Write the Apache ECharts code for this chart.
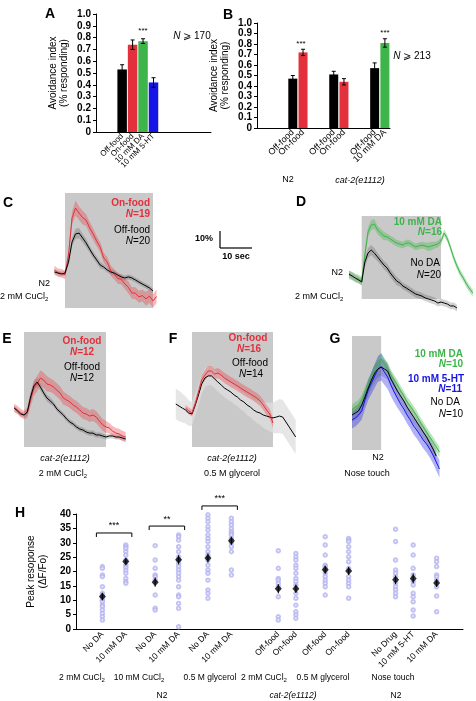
<!DOCTYPE html>
<html><head><meta charset="utf-8">
<script src="https://cdn.jsdelivr.net/npm/echarts@6/dist/echarts.min.js"></script>
<style>html,body{margin:0;padding:0;background:#fff}#c{width:476px;height:701px}</style>
</head><body><div id="c"></div>
<script>
// ================= DATA =================
// Panel A
const aCats = ['Off-food', 'On-food', '10 mM DA', '10 mM 5-HT'];
const aVals = [0.53, 0.74, 0.77, 0.42];
const aErr  = [0.04, 0.04, 0.02, 0.04];
// Panel B
const bCats = ['Off-food', 'On-food', 'Off-food', 'On-food', 'Off-food', '10 mM DA'];
const bVals = [0.47, 0.72, 0.51, 0.44, 0.57, 0.81];
const bErr  = [0.03, 0.03, 0.03, 0.03, 0.05, 0.04];
const barTickStep = 0.1;

// Panel C (time in s, dF/F in %)
const cTime = [-3,-2,-1,0,1,2,3,4,5,6,7,8,9,10,11,12,13,14,15,16,17,18,19,20,21,22,23,24,25,26];
const cOn   = [1.2,-0.4,-0.8,-1.6,10,31.8,37.6,34.6,32,30.5,26,22.3,18.2,14.6,8.3,5.8,0.8,-1.4,-3.9,-4.3,-7,-9,-12.3,-12.5,-14.6,-13.9,-15.8,-14.2,-17,-14.4];
const cOnSem = [2.5,2.5,2.5,2.5,3,4,4.5,4,4,3.5,3.5,3.5,3,3,3,3,3,3,3,3,3,3.5,3.5,3.5,3.5,3.5,4,4,4,4];
const cOff  = [0,-0.6,-1.2,-0.6,5.9,17.6,22.4,22.9,20,17.1,13.5,10,7.1,4.1,2.9,1.2,0,-0.6,-1.8,-2.9,-3.5,-2.9,-3.5,-4.7,-5.9,-7.1,-8.2,-9.4,-11.2,null];
const cOffSem = [1.5,1.5,1.5,1.5,2,2.5,3,3,2.5,2.5,2,2,2,2,1.5,1.5,1.5,1.5,1.5,1.5,1.5,1.5,1.5,1.5,1.5,1.5,1.5,1.5,1.5,1.5];

// Panel D
const dTime = [-4,-3,-2,-1,0,1,2,3,4,5,6,7,8,9,10,11,12,13,14,15,16,17,18,19,20,21,22,23,24,25,26,27,28,29,30,31,32,33,34,35];
const dDA   = [0,-0.6,-1.8,-2.4,-3.5,11.8,25.3,29.4,30,26.5,24.7,22.9,22.4,21.2,20,18.8,18.2,17.6,18.8,18.8,17.6,16.5,17.1,17.6,17.1,16.5,17.1,17.6,18.2,20,24.7,21.2,15.9,10,5.3,1.2,-1.8,-5.3,-8.2,-10.6];
const dDASem = [2.5,2.5,2.5,2.5,2.5,3,3,3,3,2.5,2.5,2.5,2,2,2,2,2,2,2,2,2,2,2,2,2,2.5,2.5,2,2,2,2,2,2,2,2,2,2,2,2,2];
const dNo   = [0.6,-0.6,-1.8,-2.9,-4.1,7.6,12.9,14.7,12.9,10.6,8.2,5.9,4.1,1.2,-1.2,-3.5,-4.7,-6.5,-7.6,-8.8,-10,-11.2,-11.8,-12.4,-13.5,-14.1,-14.7,-15.3,-16.5,-15.9,-16.5,-17.1,-18.2,-18.2,-19.4,null,null,null,null,null];
const dNoSem = [2,2,2,2,2,3,3,3,3,2.5,2.5,2.5,2.5,2.5,2.5,2.5,2,2,2,2,2,2,2,2,2,2,2,2,2,2,2,2,2,2,2,2,2,2,2,2];

// Panel E
const eTime = [-3,-2,-1,0,1,2,3,4,5,6,7,8,9,10,11,12,13,14,15,16,17,18,19,20,21,22,23,24,25,26,27,28,29,30,31];
const eOn   = [2.4,1.2,-0.6,-1.8,-0.6,7.1,14.1,16.5,20,18.8,16.5,15.9,14.7,12.9,11.2,8.2,7.1,5.9,4.1,2.9,1.2,-0.6,-1.2,-2.4,-1.8,-2.9,-5.3,-7.6,-8.8,-9.4,-11.2,-12.4,-12.9,-14.1,-14.7];
const eOnSem = [2.5,2.5,2.5,2.5,3,4,4.5,4.5,4.5,4.5,4.5,4,4,4,4,4,3.5,3.5,3.5,3.5,3.5,3.5,3.5,3.5,3.5,3.5,3.5,3.5,3.5,3,3,3,3,3,3];
const eOff  = [2.4,0.6,-1.2,-1.8,0,8.8,15.3,17.6,14.7,11.2,8.2,6.5,4.7,1.8,0,-1.8,-4.1,-5.9,-7.1,-8.8,-10,-10.6,-11.8,-12.4,-12.4,-13.5,-13.5,-14.1,-14.7,-14.1,-14.1,-14.7,-14.7,-15.3,-15.9];
const eOffSem = [1.5,1.5,1.5,1.5,2,2.5,2.5,2.5,2,2,2,2,1.5,1.5,1.5,1.5,1.5,1.5,1.5,1.5,1.5,1.5,1.5,1.5,1.5,1.5,1.5,1.5,1.5,1.5,1.5,1.5,1.5,1.5,1.5];

// Panel F
const fTime = [-5,-4,-3,-2,-1,0,1,2,3,4,5,6,7,8,9,10,11,12,13,14,15,16,17,18,19,20,21,22,23,24,25,26,27,28,29,30,31,32];
const fOff  = [0.6,-0.6,-1.8,-2.9,-4.7,-5.3,0,5.9,12.4,15.9,17.1,17.1,15.3,13.5,11.8,10,8.8,7.6,5.9,4.7,2.9,1.8,0,-1.2,-2.9,-4.1,-4.7,-5.9,-6.5,-7.1,-7.6,-7.1,-6.5,-7.1,-10,-12.9,-15.9,-18.8];
const fOffSem = [9,9,8.5,8,7.5,7,6.5,6,6,5.5,5.5,5.5,5.5,5.5,5.5,5.5,5.5,5.5,5.5,5.5,5.5,5.5,6,6,6,6.5,7,7.5,8,8.5,9,9.5,10,10,10,10,10,10];
const fOn   = [null,null,null,-1.8,-3.5,-4.7,0.6,7.6,14.7,17.6,20,20,18.2,18.8,17.6,15.9,14.7,13.5,12.4,11.2,10,8.8,7.6,6.5,5.3,4.1,2.4,0,-2.9,-5.3,-10.6,null,null,null,null,null,null,null];
const fOnSem = [0,0,0,2,2,2,2.5,2.5,3,3,3,3,3,3,3,3,3,3,3,3,3,3,3,3,3,3,3,3,3,3,3,0,0,0,0,0,0,0];

// Panel G
const gTime = [0,1,2,3,4,5,6,7,8,9,10,11,12,13,14,15,16,17,18,19,20,21,22,23,24,25,26,27];
const gDA   = [5.9,7.6,8.8,11.8,16.5,20.6,24.7,28.8,32.9,35.9,32.9,30,26.5,23.5,20.6,17.1,14.1,10.6,8.2,5.3,2.4,-1.2,-4.1,-7.1,-10,-12.9,-15.9,-18.8];
const gDASem = [3,3,3,3,3,3.5,3.5,3.5,3.5,3.5,3.5,3.5,3,3,3,3,3,3,3,3,3,3,3,3,3,3,3,3];
const gHT   = [0,1.2,2.9,5.3,11.8,17.6,21.8,25.9,30,31.2,28.2,25.3,20.6,16.5,12.9,9.4,6.5,2.9,0,-3.5,-5.9,-8.8,-11.8,-14.1,-17.1,-20.6,-24.7,-28.8];
const gHTSem = [5,5,5,5,5.5,6,6.5,7,7.5,8,7.5,7,6.5,6,5.5,5,5,5,5,5,5,5,5,5,5,5,5,5];
const gNo   = [2.9,4.1,5.3,8.8,13.5,18.8,23.5,27.6,30,31.2,30,28.8,24.1,20.6,17.1,14.1,11.2,7.6,4.7,1.8,-1.2,-4.1,-7.1,-10,-13.5,-17.1,-21.2,null];
const gNoSem = [4,4,4,4,4,4.5,4.5,5,5,5,5,5,4.5,4.5,4.5,4,4,4,4,4,4,4,4,4,4,4,4,4];

// stimulus durations (s) for C, D, E, F, G
const stimDur = [25, 25, 25, 25, 9];

// Panel H
const hLabels = ['No DA','10 mM DA','No DA','10 mM DA','No DA','10 mM DA','Off-food','On-food','Off-food','On-food','No Drug','10 mM 5-HT','10 mM DA'];
const hPts = [
  [21.7,21.1,18.8,18.2,14.7,12.4,11.2,10.1,9.5,8.3,7.8,6.6,5.4,4.3,3.1],
  [29.2,28.6,28.0,26.9,25.7,24.0,22.2,21.4,20.4,19.4,17.6,16.5,15.9],
  [29.0,24.0,21.1,18.8,18.2,17.0,11.8,7.2,6.6],
  [32.7,32.1,30.9,28.6,26.9,25.1,24.0,22.8,21.7,20.5,19.4,18.2,17.0,14.7,11.8,11.2,8.9,7.2,0.8],
  [39.7,38.5,37.3,35.6,34.4,32.7,31.5,30.4,28.6,26.9,25.7,24.0,22.2,20.5,19.4,17.0,13.6,12.4,10.7],
  [38.5,37.3,36.2,35.0,33.9,33.3,32.7,31.5,29.8,28.6,26.9,20.5,18.8],
  [27.2,21.1,17.6,17.0,15.9,14.7,11.2,4.3,3.1],
  [26.3,25.1,24.0,22.2,21.1,19.4,17.6,16.5,15.3,12.4,10.7,8.3,6.0,4.9,3.7],
  [32.1,29.2,25.7,22.2,21.7,21.1,19.4,18.2,17.0,15.9,14.7,11.8],
  [31.5,30.9,30.4,28.6,26.9,25.1,23.4,21.1,18.2,17.0,15.9,14.7,10.7],
  [34.7,30.4,24.0,20.5,19.4,18.2,15.9,14.7,13.6,12.4,11.2],
  [29.2,25.7,21.1,18.8,16.5,15.3,12.4,11.2,9.5,6.6,4.5],
  [24.6,23.4,21.7,18.8,18.2,17.0,14.7,11.5,6.0]
];
const hMean = [11.3,23.5,16.3,24.1,24.7,30.7,14.0,14.0,20.6,20.2,17.1,17.6,16.0];
const hSem  = [1.3,1.1,1.6,1.6,1.6,1.4,1.6,1.5,1.4,1.4,1.5,1.7,1.4];
const hSig  = [[0,1,'***'],[2,3,'**'],[4,5,'***']];
const hSigLevel = [33.4, 35.8, 42.8];

// ================= LAYOUT / STYLE =================
const FAM = '"Liberation Sans", Arial, Helvetica, sans-serif';
const RED = '#e2303c', GREEN = '#3db54a', BLUE = '#1515e6', BLACK = '#000';
const aSlot = [2,3,4,5], aN = 11;
const bSlot = [3,4,7,8,11,12], bN = 13;
const hSlot = [4,8,13,17,22,26,34,37,42,46,54,57,61], hN = 66;

function slotCats(n, slots, labels) {
  const arr = new Array(n).fill('');
  slots.forEach((s, i) => arr[s] = labels[i]);
  return arr;
}
function slotVals(n, slots, vals, colors) {
  const arr = new Array(n).fill('-');
  slots.forEach((s, i) => arr[s] = {value: vals[i], itemStyle: {color: colors[i]}});
  return arr;
}

// trace panels: x0/y0 pixel of (t=0, v=0), px per s, px per %
const panels = [
  {x0:65,  y0:272, pxs:3.52, pxp:1.7, t:[-4,27.5], v:[-26,48], rectV:[-21.2,46.5]},
  {x0:362, y0:275, pxs:3.24, pxp:1.7, t:[-5,36],   v:[-22,37], rectV:[-14.1,34.7]},
  {x0:24,  y0:412, pxs:3.28, pxp:1.7, t:[-4,32.5], v:[-25,48], rectV:[-20.6,47]},
  {x0:192, y0:405, pxs:3.24, pxp:1.7, t:[-6,33.5], v:[-27,44], rectV:[-24.7,42.9]},
  {x0:352, y0:420, pxs:3.24, pxp:1.7, t:[-1,28.5], v:[-32,50], rectV:[-17.6,49.4]}
];

const grids = [
  {left:96, top:14, width:115, height:118},
  {left:257, top:23, width:133, height:105},
  {left:76, top:514, width:387, height:115}
];
const xAxes = [], yAxes = [];
const axisLineStyle = {lineStyle:{color:'#000', width:1}};
const yLab = {fontFamily:FAM, fontSize:10, fontWeight:'bold', color:'#000', margin:5};

xAxes.push({gridIndex:0, type:'category', data:slotCats(aN, aSlot, aCats), axisLine:axisLineStyle, axisTick:{show:false},
  axisLabel:{interval:0, rotate:45, fontFamily:FAM, fontSize:8, color:'#000', margin:3}});
yAxes.push({gridIndex:0, type:'value', min:0, max:1, interval:barTickStep, axisLine:{show:true, lineStyle:{color:'#000'}},
  axisTick:{show:true, length:3, lineStyle:{color:'#000'}}, splitLine:{show:false},
  axisLabel:Object.assign({formatter:v => v === 0 ? '0' : v.toFixed(1)}, yLab),
  name:'Avoidance index\n(% responding)', nameLocation:'middle', nameGap:26, nameRotate:90,
  nameTextStyle:{fontFamily:FAM, fontSize:10, color:'#000', lineHeight:11}});
xAxes.push({gridIndex:1, type:'category', data:slotCats(bN, bSlot, bCats), axisLine:axisLineStyle, axisTick:{show:false},
  axisLabel:{interval:0, rotate:45, fontFamily:FAM, fontSize:9, color:'#000', margin:3}});
yAxes.push({gridIndex:1, type:'value', min:0, max:1, interval:barTickStep, axisLine:{show:true, lineStyle:{color:'#000'}},
  axisTick:{show:true, length:3, lineStyle:{color:'#000'}}, splitLine:{show:false},
  axisLabel:Object.assign({formatter:v => v === 0 ? '0' : v.toFixed(1)}, yLab),
  name:'Avoidance index\n(% responding)', nameLocation:'middle', nameGap:26, nameRotate:90,
  nameTextStyle:{fontFamily:FAM, fontSize:10, color:'#000', lineHeight:11}});
xAxes.push({gridIndex:2, type:'category', data:slotCats(hN, hSlot, hLabels), axisLine:axisLineStyle, axisTick:{show:false},
  axisLabel:{interval:0, rotate:45, fontFamily:FAM, fontSize:8.5, color:'#000', margin:4}});
yAxes.push({gridIndex:2, type:'value', min:0, max:40, interval:5, axisLine:{show:true, lineStyle:{color:'#000'}},
  axisTick:{show:true, length:3, lineStyle:{color:'#000'}}, splitLine:{show:false},
  axisLabel:yLab,
  name:'Peak resoponse\n(\u0394F/Fo)', nameLocation:'middle', nameGap:26, nameRotate:90,
  nameTextStyle:{fontFamily:FAM, fontSize:10, color:'#000', lineHeight:12}});

panels.forEach(p => {
  const gi = grids.length;
  p.gi = gi;
  grids.push({left: p.x0 + p.t[0]*p.pxs, top: p.y0 - p.v[1]*p.pxp, width:(p.t[1]-p.t[0])*p.pxs, height:(p.v[1]-p.v[0])*p.pxp});
  xAxes.push({gridIndex:gi, type:'value', min:p.t[0], max:p.t[1], show:false, splitLine:{show:false}});
  yAxes.push({gridIndex:gi, type:'value', min:p.v[0], max:p.v[1], show:false, splitLine:{show:false}});
});

const series = [];
function errSeries(gi, slots, vals, errs, cw, z) {
  return {type:'custom', xAxisIndex:gi, yAxisIndex:gi, z:z || 5, silent:true,
    data: slots.map((s, i) => [s, vals[i], errs[i]]),
    renderItem: (params, api) => {
      const x = api.value(0), v = api.value(1), e = api.value(2);
      const t = api.coord([x, v + e]), b = api.coord([x, v - e]);
      const st = {stroke:'#000', lineWidth:1};
      return {type:'group', children:[
        {type:'line', shape:{x1:t[0], y1:t[1], x2:b[0], y2:b[1]}, style:st},
        {type:'line', shape:{x1:t[0]-cw, y1:t[1], x2:t[0]+cw, y2:t[1]}, style:st},
        {type:'line', shape:{x1:b[0]-cw, y1:b[1], x2:b[0]+cw, y2:b[1]}, style:st}
      ]};
    }};
}
// bars
series.push({type:'bar', xAxisIndex:0, yAxisIndex:0, barWidth:9.5, silent:true,
  data: slotVals(aN, aSlot, aVals, [BLACK, RED, GREEN, BLUE])});
series.push(errSeries(0, aSlot, aVals, aErr, 2));
series.push({type:'bar', xAxisIndex:1, yAxisIndex:1, barWidth:9, silent:true,
  data: slotVals(bN, bSlot, bVals, [BLACK, RED, BLACK, RED, BLACK, GREEN])});
series.push(errSeries(1, bSlot, bVals, bErr, 2));

// H scatter
const hScatter = [];
hPts.forEach((col, i) => col.forEach(v => hScatter.push([hSlot[i], v])));
series.push({type:'scatter', xAxisIndex:2, yAxisIndex:2, symbol:'emptyCircle', symbolSize:3.5, silent:true,
  itemStyle:{color:'#b4b4f0', borderColor:'#b0b0f0', borderWidth:0.8}, data:hScatter, z:3});
series.push(errSeries(2, hSlot, hMean, hSem, 0, 6));
series.push({type:'scatter', xAxisIndex:2, yAxisIndex:2, symbol:'diamond', symbolSize:[7,8], silent:true,
  itemStyle:{color:'#000'}, data: hSlot.map((s, i) => [s, hMean[i]]), z:7});
series.push({type:'custom', xAxisIndex:2, yAxisIndex:2, silent:true, z:8, clip:false,
  data: hSig.map((s, i) => [hSlot[s[0]], hSlot[s[1]], hSigLevel[i]]),
  renderItem: (params, api) => {
    const i = params.dataIndex;
    const a = api.coord([api.value(0), api.value(2)]), b = api.coord([api.value(1), api.value(2)]);
    const x1 = a[0] - 6, x2 = b[0] + 6, y = a[1];
    return {type:'group', children:[
      {type:'polyline', shape:{points:[[x1, y+4],[x1, y],[x2, y],[x2, y+4]]}, style:{stroke:'#000', lineWidth:1, fill:null}},
      {type:'text', style:{text:hSig[i][2], x:(x1+x2)/2, y:y-7, textAlign:'center', textVerticalAlign:'middle', fontFamily:FAM, fontSize:9, fill:'#000'}}
    ]};
  }});

// traces
function rectSeries(p, dur) {
  return {type:'custom', xAxisIndex:p.gi, yAxisIndex:p.gi, z:1, silent:true, clip:false, data:[[0, 0]],
    renderItem: (params, api) => {
      const a = api.coord([0, p.rectV[1]]), b = api.coord([dur, p.rectV[0]]);
      return {type:'rect', shape:{x:a[0], y:a[1], width:b[0]-a[0], height:b[1]-a[1]}, style:{fill:'#c9c9c9'}};
    }};
}
function bandSeries(p, time, vals, sem, color) {
  return {type:'custom', xAxisIndex:p.gi, yAxisIndex:p.gi, z:2, silent:true, clip:false, data:[[0, 0]],
    renderItem: (params, api) => {
      const up = [], lo = [];
      time.forEach((t, i) => {
        if (vals[i] == null) return;
        up.push(api.coord([t, vals[i] + sem[i]]));
        lo.push(api.coord([t, vals[i] - sem[i]]));
      });
      return {type:'polygon', shape:{points: up.concat(lo.reverse())}, style:{fill:color}};
    }};
}
function lineSeries(p, time, vals, color, z) {
  const d = [];
  time.forEach((t, i) => { if (vals[i] != null) d.push([t, vals[i]]); });
  return {type:'line', xAxisIndex:p.gi, yAxisIndex:p.gi, z:z || 3, silent:true, symbol:'none', showSymbol:false,
    clip:false, data:d, lineStyle:{color, width:1}};
}
const bandRed = 'rgba(232,70,80,0.38)', bandBlack = 'rgba(50,50,50,0.22)', bandGreen = 'rgba(70,185,80,0.38)',
      bandBlue = 'rgba(50,50,235,0.38)', bandLight = 'rgba(222,222,222,0.75)';
const [pC, pD, pE, pF, pG] = panels;
panels.forEach((p, i) => series.push(rectSeries(p, stimDur[i])));
// C
series.push(bandSeries(pC, cTime, cOff, cOffSem, bandBlack));
series.push(bandSeries(pC, cTime, cOn, cOnSem, bandRed));
series.push(lineSeries(pC, cTime, cOn, RED, 3));
series.push(lineSeries(pC, cTime, cOff, BLACK, 4));
// D
series.push(bandSeries(pD, dTime, dDA, dDASem, bandGreen));
series.push(bandSeries(pD, dTime, dNo, dNoSem, bandBlack));
series.push(lineSeries(pD, dTime, dDA, GREEN, 3));
series.push(lineSeries(pD, dTime, dNo, BLACK, 4));
// E
series.push(bandSeries(pE, eTime, eOff, eOffSem, bandBlack));
series.push(bandSeries(pE, eTime, eOn, eOnSem, bandRed));
series.push(lineSeries(pE, eTime, eOn, RED, 3));
series.push(lineSeries(pE, eTime, eOff, BLACK, 4));
// F
series.push(bandSeries(pF, fTime, fOff, fOffSem, bandLight));
series.push(bandSeries(pF, fTime, fOn, fOnSem, bandRed));
series.push(lineSeries(pF, fTime, fOff, BLACK, 3));
series.push(lineSeries(pF, fTime, fOn, RED, 4));
// G
series.push(bandSeries(pG, gTime, gNo, gNoSem, bandBlack));
series.push(bandSeries(pG, gTime, gHT, gHTSem, bandBlue));
series.push(bandSeries(pG, gTime, gDA, gDASem, bandGreen));
series.push(lineSeries(pG, gTime, gHT, BLUE, 3));
series.push(lineSeries(pG, gTime, gDA, GREEN, 3));
series.push(lineSeries(pG, gTime, gNo, BLACK, 4));

// ================= TEXT ANNOTATIONS =================
function T(x, y, text, o) {
  o = o || {};
  const size = o.size || 9.5, w = o.bold ? 'bold' : 'normal', fill = o.color || '#000';
  const st = o.italic ? 'italic' : 'normal';
  return {type:'text', x, y, silent:true, z:100, style:{
    text, fill, fontFamily:FAM, fontSize:size, fontWeight:w, fontStyle:st,
    textAlign:o.align || 'center', textVerticalAlign:'middle',
    rich:{
      i:{fontStyle:'italic', fontWeight:w, fontSize:size, fontFamily:FAM, fill},
      s:{fontStyle:st, fontWeight:w, fontSize:Math.round(size*0.68), fontFamily:FAM, fill, padding:[Math.round(size*0.5),0,0,0]}
    }}};
}
function L(x1, y1, x2, y2) {
  return {type:'line', silent:true, z:100, shape:{x1, y1, x2, y2}, style:{stroke:'#000', lineWidth:1.2}};
}
const els = [
  T(50,14,'A',{size:14,bold:true}), T(228,15,'B',{size:14,bold:true}), T(8,203,'C',{size:14,bold:true}),
  T(301,202,'D',{size:14,bold:true}), T(7,339,'E',{size:14,bold:true}), T(173,339,'F',{size:14,bold:true}),
  T(335,339,'G',{size:14,bold:true}), T(20,513,'H',{size:14,bold:true}),
  // A, B
  T(143,31,'***',{size:8}), T(192,36,'{i|N} \u2A7E 170',{size:10}),
  T(301,44,'***',{size:8}), T(385,33,'***',{size:8}), T(412,56,'{i|N} \u2A7E 213',{size:10}),
  T(288,180,'N2',{size:9}), T(360,180,'cat-2(e1112)',{size:9,italic:true}),
  // C
  T(150,203,'On-food',{size:10,bold:true,color:RED,align:'right'}),
  T(150,214,'{i|N}=19',{size:10,bold:true,color:RED,align:'right'}),
  T(150,230,'Off-food',{size:10,align:'right'}),
  T(150,241,'{i|N}=20',{size:10,align:'right'}),
  T(50,284,'N2',{size:9,align:'right'}),
  T(0,297,'2 mM CuCl{s|2}',{size:9,align:'left'}),
  T(213,239,'10%',{size:9,bold:true,align:'right'}),
  T(236,257,'10 sec',{size:9,bold:true}),
  L(220,231,220,248), L(220,248,252,248),
  // D
  T(442,222,'10 mM DA',{size:10,bold:true,color:GREEN,align:'right'}),
  T(442,232,'{i|N}=16',{size:10,bold:true,color:GREEN,align:'right'}),
  T(440,263,'No DA',{size:10,align:'right'}),
  T(441,275,'{i|N}=20',{size:10,align:'right'}),
  T(343,273,'N2',{size:9,align:'right'}),
  T(295,297,'2 mM CuCl{s|2}',{size:9,align:'left'}),
  // E
  T(82,341,'On-food',{size:10,bold:true,color:RED}),
  T(82,352,'{i|N}=12',{size:10,bold:true,color:RED}),
  T(82,367,'Off-food',{size:10}),
  T(82,378,'{i|N}=12',{size:10}),
  T(65,458,'cat-2(e1112)',{size:9,italic:true}),
  T(63,474,'2 mM CuCl{s|2}',{size:9}),
  // F
  T(248,338,'On-food',{size:10,bold:true,color:RED}),
  T(249,349,'{i|N}=16',{size:10,bold:true,color:RED}),
  T(250,363,'Off-food',{size:10}),
  T(251,374,'{i|N}=14',{size:10}),
  T(232,458,'cat-2(e1112)',{size:9,italic:true}),
  T(232,474,'0.5 M glycerol',{size:9}),
  // G
  T(463,354,'10 mM DA',{size:10,bold:true,color:GREEN,align:'right'}),
  T(463,364,'{i|N}=10',{size:10,bold:true,color:GREEN,align:'right'}),
  T(464,379,'10 mM 5-HT',{size:10,bold:true,color:BLUE,align:'right'}),
  T(462,389,'{i|N}=11',{size:10,bold:true,color:BLUE,align:'right'}),
  T(460,402,'No DA',{size:10,align:'right'}),
  T(463,414,'{i|N}=10',{size:10,align:'right'}),
  T(378,458,'N2',{size:9}),
  T(367,474,'Nose touch',{size:9}),
  // H group labels
  T(82,678,'2 mM CuCl{s|2}',{size:8.5}), T(139,678,'10 mM CuCl{s|2}',{size:8.5}), T(210,678,'0.5 M glycerol',{size:8.5}),
  T(264,678,'2 mM CuCl{s|2}',{size:8.5}), T(323,678,'0.5 M glycerol',{size:8.5}), T(393,678,'Nose touch',{size:8.5}),
  T(162,696,'N2',{size:8.5}), T(293,696,'cat-2(e1112)',{size:8.5,italic:true}), T(396,696,'N2',{size:8.5})
];

const chart = echarts.init(document.getElementById('c'), null, {renderer:'canvas', width:476, height:701});
chart.setOption({
  animation:false,
  backgroundColor:'#fff',
  textStyle:{fontFamily:FAM},
  grid:grids, xAxis:xAxes, yAxis:yAxes, series:series,
  graphic:{elements:els}
});
</script>
</body></html>
